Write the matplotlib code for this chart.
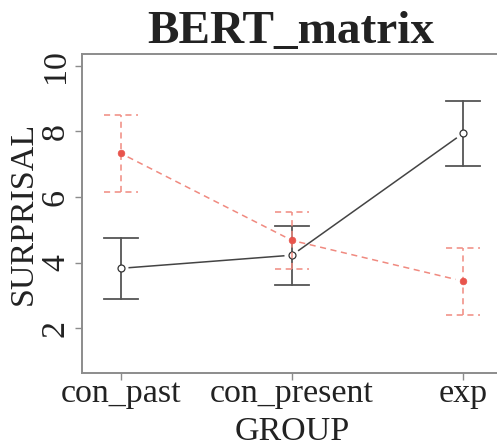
import numpy as np
import matplotlib
matplotlib.use("Agg")
import matplotlib.pyplot as plt

# Mean surprisal per group with error-bar half-widths
groups = ["con_past", "con_present", "exp"]
black_mean = [3.83, 4.23, 7.94]
black_err = [0.93, 0.90, 1.00]
red_mean = [7.33, 4.68, 3.44]
red_err = [1.17, 0.87, 1.02]
yticks = [2, 4, 6, 8, 10]

plt.rcParams["font.family"] = ["Liberation Serif", "DejaVu Serif"]

W, H, DPI = 497, 446, 100
fig = plt.figure(figsize=(W / DPI, H / DPI), dpi=DPI)
fig.patch.set_facecolor("white")

left, right, top, bottom = 82, 504, 54, 373
ax = fig.add_axes([left / W, 1 - bottom / H, (right - left) / W, (bottom - top) / H])

x = np.arange(1, len(groups) + 1)
ax.set_xlim(0.772, 3.24)
ax.set_ylim(0.64, 10.36)

GAP = 7.5  # pixel gap between connecting line and point (R type="b")


def gapped_lines(xs, ys, **kw):
    pts = ax.transData.transform(np.column_stack([xs, ys]))
    inv = ax.transData.inverted()
    for i in range(len(pts) - 1):
        p0, p1 = pts[i], pts[i + 1]
        d = p1 - p0
        L = np.hypot(*d)
        u = d / L
        a = inv.transform(p0 + u * GAP)
        b = inv.transform(p1 - u * GAP)
        ax.plot([a[0], b[0]], [a[1], b[1]], **kw)


def error_bars(xs, ys, es, color, ls, lw):
    cap = 0.1
    for xi, yi, ei in zip(xs, ys, es):
        ax.plot([xi, xi], [yi - ei, yi + ei], color=color, ls=ls, lw=lw)
        ax.plot([xi - cap, xi + cap], [yi + ei, yi + ei], color=color, ls=ls, lw=lw)
        ax.plot([xi - cap, xi + cap], [yi - ei, yi - ei], color=color, ls=ls, lw=lw)


fig.canvas.draw()

# black series
gapped_lines(x, black_mean, color="#444444", lw=1.1, solid_capstyle="butt")
error_bars(x, black_mean, black_err, "#555555", "-", 1.3)
ax.plot(x, black_mean, ls="none", marker="o", ms=5, mfc="white", mec="#333333", mew=0.9)

# red series
red_line = "#f08a80"
gapped_lines(x, red_mean, color=red_line, lw=1.1, ls=(0, (4, 3)))
error_bars(x, red_mean, red_err, red_line, (0, (4, 3)), 1.1)
ax.plot(x, red_mean, ls="none", marker="o", ms=4.8, mfc="#e8544c", mec="#e8544c", mew=0.5)

for s in ax.spines.values():
    s.set_color("#8c8c8c")
    s.set_linewidth(1.4)
ax.spines["right"].set_visible(False)

ax.set_xticks(x)
ax.set_xticklabels(groups)
ax.set_yticks(yticks)
ax.set_yticklabels([str(t) for t in yticks], rotation=90, va="center")
ax.tick_params(axis="both", colors="#8c8c8c", length=5, width=1.0, labelsize=24.5,
               labelcolor="#222222")
ax.tick_params(axis="x", pad=-1)
ax.tick_params(axis="y", pad=3)

fig.text(291 / W, 1 - 43 / H, "BERT_matrix", ha="center", va="baseline",
         fontsize=34, fontweight="bold", color="#222222")
fig.text(292 / W, 1 - 440 / H, "GROUP", ha="center", va="baseline",
         fontsize=24.5, color="#222222")
fig.text(24 / W, 1 - 213 / H, "SURPRISAL", ha="center", va="center", rotation=90,
         fontsize=24.5, color="#222222")

fig.savefig("out.png", dpi=DPI, facecolor="white")
